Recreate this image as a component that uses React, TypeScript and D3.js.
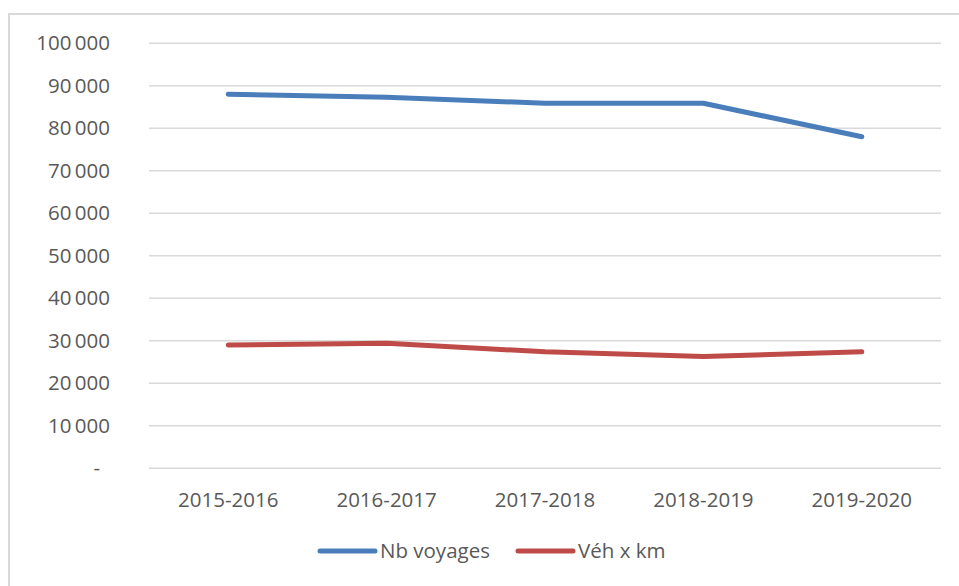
import React from "react";
import * as d3 from "d3";

const categories = ["2015-2016", "2016-2017", "2017-2018", "2018-2019", "2019-2020"];
const nbVoyages = [88000, 87300, 85900, 85900, 78000];
const vehKm = [29000, 29400, 27400, 26300, 27400];
const yTicks = [0, 10000, 20000, 30000, 40000, 50000, 60000, 70000, 80000, 90000, 100000];
const seriesNames = ["Nb voyages", "Véh x km"];
const seriesColors = ["#4a7ebb", "#be4b48"];

const W = 959;
const H = 586;
const left = 149;
const right = 941;
const top = 43.3;
const bottom = 468.3;

const fmt = (v: number) => (v === 0 ? "-" : d3.format(",")(v).replace(/,/g, "\u2009"));

export default function App() {
  const x = d3.scalePoint<string>().domain(categories).range([left, right]).padding(0.5);
  const y = d3.scaleLinear().domain([0, 100000]).range([bottom, top]);
  const line = d3
    .line<number>()
    .x((_, i) => x(categories[i]) as number)
    .y((d) => y(d))
    .curve(d3.curveLinear);
  const series = [nbVoyages, vehKm];
  const font = "'Open Sans', 'Liberation Sans', sans-serif";
  const fs = 20.5;
  const legendX = [320, 518];
  return (
    <svg width={W} height={H} style={{ position: "absolute", left: 0, top: 0, background: "#fff" }}>
      <rect x={9} y={14} width={1000} height={1000} fill="#fff" stroke="#d9d9d9" strokeWidth={2} />
      {yTicks.map((t) => (
        <g key={t}>
          <line x1={left} x2={right} y1={y(t)} y2={y(t)} stroke="#d9d9d9" strokeWidth={1.5} />
          <text
            x={t === 0 ? 100 : 110}
            y={y(t)}
            dy="0.35em"
            textAnchor="end"
            fontFamily={font}
            fontSize={fs}
            fill="#595959"
          >
            {fmt(t)}
          </text>
        </g>
      ))}
      {categories.map((c) => (
        <text
          key={c}
          x={x(c)}
          y={500}
          dy="0.35em"
          textAnchor="middle"
          fontFamily={font}
          fontSize={fs}
          fill="#595959"
        >
          {c}
        </text>
      ))}
      {series.map((s, i) => (
        <path
          key={i}
          d={line(s) as string}
          fill="none"
          stroke={seriesColors[i]}
          strokeWidth={5}
          strokeLinecap="round"
          strokeLinejoin="round"
        />
      ))}
      {seriesNames.map((n, i) => (
        <g key={n}>
          <line
            x1={legendX[i]}
            x2={legendX[i] + 55}
            y1={551}
            y2={551}
            stroke={seriesColors[i]}
            strokeWidth={5}
            strokeLinecap="round"
          />
          <text
            x={legendX[i] + 60}
            y={551}
            dy="0.35em"
            fontFamily={font}
            fontSize={fs}
            fill="#595959"
          >
            {n}
          </text>
        </g>
      ))}
    </svg>
  );
}
